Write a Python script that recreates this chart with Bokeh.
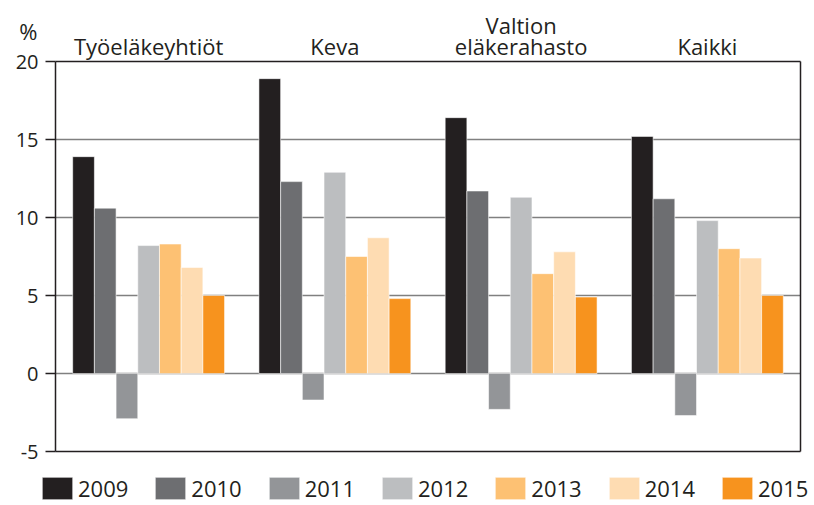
from bokeh.plotting import figure
from bokeh.models import (ColumnDataSource, Range1d, FixedTicker, PrintfTickFormatter,
                          Legend, LegendItem, Label)
from bokeh.embed import file_html
from bokeh.resources import INLINE

groups = ["Työeläkeyhtiöt", "Keva", "Valtion\neläkerahasto", "Kaikki"]
years = ["2009", "2010", "2011", "2012", "2013", "2014", "2015"]
v2009 = [13.9, 18.9, 16.4, 15.2]
v2010 = [10.6, 12.3, 11.7, 11.2]
v2011 = [-2.9, -1.7, -2.3, -2.7]
v2012 = [8.2, 12.9, 11.3, 9.8]
v2013 = [8.3, 7.5, 6.4, 8.0]
v2014 = [6.8, 8.7, 7.8, 7.4]
v2015 = [5.0, 4.8, 4.9, 5.0]
y_ticks = [-5, 0, 5, 10, 15, 20]
grid_ticks = [0, 5, 10, 15]
unit_label = "%"
colors = ["#231f20", "#6d6e71", "#939598", "#bcbec0", "#fdc173", "#fedcb2", "#f7931e"]

series = [v2009, v2010, v2011, v2012, v2013, v2014, v2015]

FONT = "Open Sans"
TXT = "#231f20"

# layout (pixels): the plotting box inside a canvas-wide frame
W, H = 812, 503
BOX_L, BOX_R, BOX_T, BOX_B = 55, 800, 61, 451
ng = len(groups)
y0, y1 = y_ticks[0], y_ticks[-1]
pxx = (BOX_R - BOX_L) / ng
pxy = (BOX_B - BOX_T) / (y1 - y0)
x_range = Range1d(-BOX_L / pxx, ng + (W - BOX_R) / pxx)
y_range = Range1d(y0 - (H - BOX_B) / pxy, y1 + BOX_T / pxy)

p = figure(x_range=x_range, y_range=y_range, width=W, height=H,
           min_border_left=0, min_border_right=0, min_border_top=0, min_border_bottom=0,
           output_backend="svg", toolbar_location=None)
p.outline_line_color = None
p.xgrid.grid_line_color = None
p.ygrid.grid_line_color = None
p.xaxis.visible = False
p.background_fill_color = "white"
p.border_fill_color = "white"

# grid lines inside the box
p.segment(x0=[0] * len(grid_ticks), x1=[ng] * len(grid_ticks), y0=grid_ticks, y1=grid_ticks,
          line_color="#808080", line_width=1.5)

bw = 0.1165
centers = [gi + 0.5 for gi in range(ng)]
renderers = []
for i, (y, vals) in enumerate(zip(years, series)):
    src = ColumnDataSource(dict(x=[c + (i - 3) * bw for c in centers], top=vals))
    r = p.vbar(x="x", top="top", bottom=0, width=bw, source=src, fill_color=colors[i],
               line_color="white", line_width=0.8, line_alpha=0.7)
    renderers.append(r)

# box: top, bottom, right edges
p.segment(x0=[0, 0, ng], x1=[ng, ng, ng], y0=[y1, y0, y0], y1=[y1, y0, y1],
          line_color=TXT, line_width=1.5)

ya = p.yaxis[0]
ya.fixed_location = 0
ya.bounds = (y0, y1)
ya.ticker = FixedTicker(ticks=y_ticks)
ya.formatter = PrintfTickFormatter(format="%d")
ya.axis_line_color = TXT
ya.axis_line_width = 1.5
ya.major_tick_line_color = TXT
ya.major_tick_line_width = 1.5
ya.major_tick_out = 10
ya.major_tick_in = 0
ya.minor_tick_line_color = None
ya.major_label_text_font = FONT
ya.major_label_text_font_size = "20px"
ya.major_label_text_color = TXT
ya.major_label_standoff = 7

# group labels above the box
for c, g in zip(centers, groups):
    lines = g.split("\n")
    n = len(lines)
    for k, line in enumerate(lines):
        p.add_layout(Label(x=c, y=y1, y_offset=16 + 21 * (n - 1 - k), text=line,
                           text_align="center", text_baseline="alphabetic",
                           text_font=FONT, text_font_size="22px", text_color=TXT))

p.add_layout(Label(x=0, y=y1, x_offset=-18, y_offset=31, text=unit_label,
                   text_align="right", text_baseline="alphabetic",
                   text_font=FONT, text_font_size="22px", text_color=TXT))

items = [LegendItem(label=y, renderers=[r]) for y, r in zip(years, renderers)]
legend = Legend(items=items, orientation="horizontal", location=(38, 0),
                glyph_width=38, glyph_height=28, label_standoff=2, spacing=23,
                label_text_font=FONT, label_text_font_size="22px", label_text_color=TXT,
                border_line_color=None, background_fill_alpha=0, padding=0, margin=0)
p.add_layout(legend, "center")

open("out.html", "w").write(file_html(p, INLINE))
